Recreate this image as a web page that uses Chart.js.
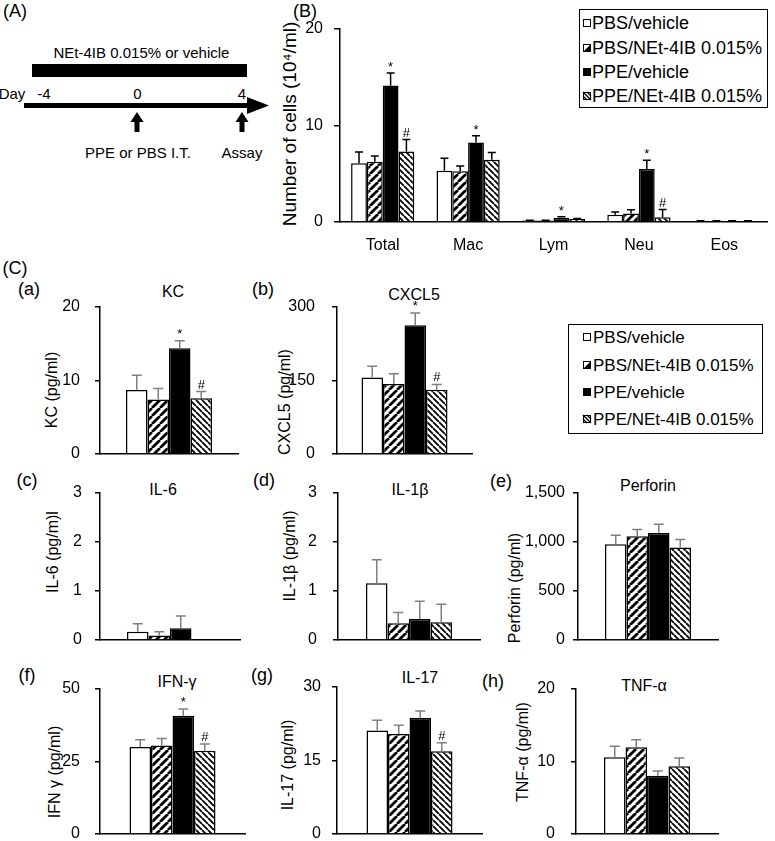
<!DOCTYPE html>
<html><head><meta charset="utf-8">
<script src="https://cdn.jsdelivr.net/npm/chart.js@4/dist/chart.umd.min.js"></script>
<style>
body{margin:0;background:#fff;width:775px;height:841px;overflow:hidden;position:relative;font-family:"Liberation Sans",Arial,sans-serif;color:#000}
.t{position:absolute;white-space:nowrap;transform:translate(-50%,-50%);line-height:1}
.yt{position:absolute;white-space:nowrap;transform:translate(-50%,-50%) rotate(-90deg);line-height:1;font-size:16px}
canvas{position:absolute}
.legend{position:absolute;border:1.5px solid #000;box-sizing:border-box;background:#fff}
.li{position:absolute;white-space:nowrap;transform:translateY(-50%);line-height:1}
.sw{position:absolute;transform:translateY(-50%)}
</style></head><body>

<!-- Panel A -->
<div class="t" style="left:15px;top:11px;font-size:18px">(A)</div>
<svg style="position:absolute;left:0;top:0" width="290" height="170">
  <rect x="32" y="64" width="215" height="13" fill="#000"/>
  <rect x="24" y="103" width="225" height="5" fill="#000"/>
  <polygon points="247,97 269,105.5 247,114" fill="#000"/>
  <polygon points="137,112 130.5,122 143.5,122" fill="#000"/>
  <rect x="134.5" y="121" width="5" height="11" fill="#000"/>
  <polygon points="242,112 235.5,122 248.5,122" fill="#000"/>
  <rect x="239.5" y="121" width="5" height="11" fill="#000"/>
  <g font-family="Liberation Sans, Arial, sans-serif" font-size="15" text-anchor="middle">
    <text x="141.5" y="58">NEt-4IB 0.015% or vehicle</text>
    <text x="12" y="99">Day</text>
    <text x="44" y="99">-4</text>
    <text x="137.5" y="99">0</text>
    <text x="242" y="99">4</text>
    <text x="138" y="158">PPE or PBS I.T.</text>
    <text x="242" y="158">Assay</text>
  </g>
</svg>

<div class="t" style="left:305px;top:11px;font-size:18px">(B)</div>
<div class="yt" style="left:289px;top:124px;font-size:19px">Number of cells (10⁴/ml)</div>

<div class="t" style="left:15px;top:268px;font-size:18px">(C)</div>

<div class="t" style="left:29px;top:289px;font-size:18px">(a)</div>
<div class="t" style="left:173px;top:292px;font-size:16px">KC</div>
<div class="yt" style="left:52px;top:390px">KC (pg/ml)</div>

<div class="t" style="left:263px;top:289px;font-size:18px">(b)</div>
<div class="t" style="left:414px;top:295px;font-size:16px">CXCL5</div>
<div class="yt" style="left:285px;top:402px">CXCL5 (pg/ml)</div>

<div class="t" style="left:27px;top:480px;font-size:18px">(c)</div>
<div class="t" style="left:163px;top:490px;font-size:16px">IL-6</div>
<div class="yt" style="left:53px;top:552px">IL-6 (pg/m)l</div>

<div class="t" style="left:264px;top:480px;font-size:18px">(d)</div>
<div class="t" style="left:410px;top:490px;font-size:16px">IL-1β</div>
<div class="yt" style="left:290px;top:556px">IL-1β (pg/ml)</div>

<div class="t" style="left:501px;top:481px;font-size:18px">(e)</div>
<div class="t" style="left:648px;top:486px;font-size:16px">Perforin</div>
<div class="yt" style="left:515px;top:588px">Perforin (pg/ml)</div>

<div class="t" style="left:27px;top:675px;font-size:18px">(f)</div>
<div class="t" style="left:177px;top:682px;font-size:16px">IFN-γ</div>
<div class="yt" style="left:55px;top:772px">IFN γ (pg/ml)</div>

<div class="t" style="left:262px;top:675px;font-size:18px">(g)</div>
<div class="t" style="left:420px;top:678px;font-size:16px">IL-17</div>
<div class="yt" style="left:288px;top:765px">IL-17 (pg/ml)</div>

<div class="t" style="left:493px;top:681px;font-size:18px">(h)</div>
<div class="t" style="left:644px;top:686px;font-size:16px">TNF-α</div>
<div class="yt" style="left:523px;top:752px">TNF-α (pg/ml)</div>

<div id="legB" class="legend" style="left:579px;top:9px;width:189px;height:99px"></div>
<div id="legC" class="legend" style="left:568px;top:324px;width:195px;height:110px"></div>

<script>
// ---------- DATA ----------
const groupLabels = ['PBS/vehicle', 'PBS/NEt-4IB 0.015%', 'PPE/vehicle', 'PPE/NEt-4IB 0.015%'];

const cellCategories = ['Total', 'Mac', 'Lym', 'Neu', 'Eos'];
const cellTicks = [0, 10, 20];
const cellPbsVehicle = [6.1, 5.3, 0.15, 0.76, 0.1];
const cellPbsNet = [6.25, 5.25, 0.15, 0.87, 0.1];
const cellPpeVehicle = [14.15, 8.25, 0.45, 5.5, 0.1];
const cellPpeNet = [7.3, 6.45, 0.3, 0.5, 0.1];
const cellPbsVehicleErr = [1.15, 1.3, 0.03, 0.28, 0.02];
const cellPbsNetErr = [0.6, 0.55, 0.03, 0.4, 0.02];
const cellPpeVehicleErr = [1.3, 0.7, 0.1, 0.9, 0.02];
const cellPpeNetErr = [1.25, 0.75, 0.05, 0.8, 0.02];
const cellPbsVehicleMarks = ['', '', '', '', ''];
const cellPbsNetMarks = ['', '', '', '', ''];
const cellPpeVehicleMarks = ['*', '*', '*', '*', ''];
const cellPpeNetMarks = ['#', '', '', '#', ''];

const kcValues = [8.7, 7.4, 14.4, 7.6];
const kcErrors = [2.0, 1.5, 1.0, 0.9];
const kcMarks = ['', '', '*', '#'];
const kcTicks = [0, 10, 20];

const cxcl5Values = [156, 143, 263, 131];
const cxcl5Errors = [23, 21, 25, 11];
const cxcl5Marks = ['', '', '*', '#'];
const cxcl5Ticks = [0, 150, 300];

const il6Values = [0.17, 0.09, 0.24, 0];
const il6Errors = [0.16, 0.08, 0.25, 0];
const il6Marks = ['', '', '', ''];
const il6Ticks = [0, 1, 2, 3];

const il1bValues = [1.16, 0.34, 0.43, 0.36];
const il1bErrors = [0.48, 0.22, 0.36, 0.37];
const il1bMarks = ['', '', '', ''];
const il1bTicks = [0, 1, 2, 3];

const perforinValues = [977, 1059, 1093, 943];
const perforinErrors = [92, 68, 88, 82];
const perforinMarks = ['', '', '', ''];
const perforinTicks = [0, 500, 1000, 1500];

const ifngValues = [30.0, 30.5, 40.8, 28.7];
const ifngErrors = [2.5, 2.4, 2.3, 2.3];
const ifngMarks = ['', '', '*', '#'];
const ifngTicks = [0, 25, 50];

const il17Values = [21.1, 20.4, 23.7, 16.9];
const il17Errors = [2.1, 1.8, 1.4, 1.7];
const il17Marks = ['', '', '', '#'];
const il17Ticks = [0, 15, 30];

const tnfaValues = [10.6, 11.95, 8.05, 9.33];
const tnfaErrors = [1.5, 1.05, 0.65, 1.15];
const tnfaMarks = ['', '', '', ''];
const tnfaTicks = [0, 10, 20];

// ---------- STYLE ----------
const FONT = '"Liberation Sans", Arial, sans-serif';
function hatch(dir, p, lw) {
  const c = document.createElement('canvas'); c.width = p; c.height = p;
  const g = c.getContext('2d');
  g.fillStyle = '#fff'; g.fillRect(0, 0, p, p);
  g.strokeStyle = '#000'; g.lineWidth = lw;
  g.beginPath();
  for (const o of [-p, 0, p]) {
    if (dir === '/') { g.moveTo(o, p); g.lineTo(o + p, 0); }
    else { g.moveTo(o, 0); g.lineTo(o + p, p); }
  }
  g.stroke();
  return g.createPattern(c, 'repeat');
}
const fills = ['#ffffff', hatch('/', 8, 2.8), '#000000', hatch('\\', 6, 1.8)];

const errorBarPlugin = {
  id: 'errorBars',
  afterDatasetsDraw(chart, args, opts) {
    const ctx = chart.ctx, ys = chart.scales.y;
    ctx.save();
    chart.data.datasets.forEach((ds, i) => {
      const meta = chart.getDatasetMeta(i);
      meta.data.forEach((bar, j) => {
        const v = ds.data[j], e = ds.errors[j] || 0;
        const y0 = ys.getPixelForValue(v), y1 = ys.getPixelForValue(v + e);
        const x = bar.x;
        if (e > 0) {
          ctx.strokeStyle = opts.color; ctx.lineWidth = 1.5;
          ctx.beginPath();
          ctx.moveTo(x, y0); ctx.lineTo(x, y1);
          ctx.moveTo(x - opts.cap / 2, y1); ctx.lineTo(x + opts.cap / 2, y1);
          ctx.stroke();
        }
        const m = ds.marks && ds.marks[j];
        if (m) {
          ctx.fillStyle = '#000';
          ctx.font = '13px ' + FONT;
          ctx.textAlign = 'center'; ctx.textBaseline = 'alphabetic';
          ctx.fillText(m, x, y1 - opts.gap);
        }
      });
    });
    ctx.restore();
  }
};

function makeChart(cfg) {
  const { l, r, t, b } = cfg.plot;
  const yW = cfg.yW;
  // vertical scale reserves half a label height plus tick padding above/below the plot
  const need = cfg.tickPad + 12;
  const padTop = need, xH = Math.max(cfg.xH, need), padRight = cfg.padRight || 6;
  const cv = document.createElement('canvas');
  const W = yW + (r - l) + padRight, H = padTop + (b - t) + xH;
  cv.width = W; cv.height = H;
  cv.style.left = (l - yW) + 'px'; cv.style.top = (t - padTop) + 'px';
  cv.style.width = W + 'px'; cv.style.height = H + 'px';
  document.body.appendChild(cv);
  const ticks = cfg.ticks;
  new Chart(cv, {
    type: 'bar',
    data: {
      labels: cfg.labels,
      datasets: cfg.series.map((s, i) => ({
        label: groupLabels[i], data: s.values, errors: s.errors, marks: s.marks,
        backgroundColor: fills[i], borderColor: '#000', borderWidth: 1.5,
        categoryPercentage: cfg.cat, barPercentage: 1
      }))
    },
    options: {
      responsive: false, animation: false, devicePixelRatio: 1,
      layout: { padding: { top: padTop, right: padRight, left: 0, bottom: 0 } },
      plugins: { legend: { display: false }, tooltip: { enabled: false },
        errorBars: { color: cfg.errColor, cap: cfg.cap, gap: cfg.gap } },
      scales: {
        x: {
          grid: { display: false, drawTicks: false },
          border: { display: true, color: '#000', width: 1.5 },
          ticks: { display: !!cfg.xLabels, color: '#000', font: { size: 16, family: FONT }, padding: cfg.xPad || 0 },
          afterFit: s => { s.height = xH; }
        },
        y: {
          min: ticks[0], max: ticks[ticks.length - 1],
          afterBuildTicks: s => { s.ticks = ticks.map(v => ({ value: v })); },
          grid: { display: true, drawOnChartArea: false, drawTicks: true, tickLength: cfg.tickLen, color: '#000', lineWidth: 1.5 },
          border: { display: true, color: '#000', width: 1.5 },
          ticks: { color: '#000', font: { size: 16, family: FONT }, padding: cfg.tickPad,
            callback: v => v.toLocaleString('en-US') },
          afterFit: s => { s.width = yW; }
        }
      }
    },
    plugins: [errorBarPlugin]
  });
}

// Panel B
makeChart({
  plot: { l: 340, r: 767, t: 29, b: 222 }, yW: 50, xH: 40, padRight: 4,
  labels: cellCategories, ticks: cellTicks, tickPad: 11, tickLen: 6, cat: 0.74,
  xLabels: true, xPad: 14, errColor: '#000', cap: 8, gap: 2,
  series: [
    { values: cellPbsVehicle, errors: cellPbsVehicleErr, marks: cellPbsVehicleMarks },
    { values: cellPbsNet, errors: cellPbsNetErr, marks: cellPbsNetMarks },
    { values: cellPpeVehicle, errors: cellPpeVehicleErr, marks: cellPpeVehicleMarks },
    { values: cellPpeNet, errors: cellPpeNetErr, marks: cellPpeNetMarks }
  ]
});

function cPanel(plot, tickPad, vals, errs, marks, ticks) {
  makeChart({
    plot, yW: 60, xH: 12, padRight: 6,
    labels: [''], ticks, tickPad, tickLen: 5, cat: 86 / (plot.r - plot.l),
    errColor: '#808080', cap: 10, gap: 3,
    series: [0, 1, 2, 3].map(i => ({ values: [vals[i]], errors: [errs[i]], marks: [marks[i]] }))
  });
}
cPanel({ l: 100, r: 238, t: 307, b: 454 }, 15, kcValues, kcErrors, kcMarks, kcTicks);
cPanel({ l: 337, r: 472, t: 307, b: 454 }, 17, cxcl5Values, cxcl5Errors, cxcl5Marks, cxcl5Ticks);
cPanel({ l: 100, r: 240, t: 493, b: 640 }, 13, il6Values, il6Errors, il6Marks, il6Ticks);
cPanel({ l: 338, r: 480, t: 493, b: 640 }, 16, il1bValues, il1bErrors, il1bMarks, il1bTicks);
cPanel({ l: 578, r: 718, t: 493, b: 640 }, 8, perforinValues, perforinErrors, perforinMarks, perforinTicks);
cPanel({ l: 100, r: 245, t: 689, b: 834 }, 15, ifngValues, ifngErrors, ifngMarks, ifngTicks);
cPanel({ l: 337, r: 482, t: 687, b: 834 }, 11, il17Values, il17Errors, il17Marks, il17Ticks);
cPanel({ l: 576, r: 718, t: 689, b: 834 }, 16, tnfaValues, tnfaErrors, tnfaMarks, tnfaTicks);

// Legends
function swatch(i) {
  const c = document.createElement('canvas'); c.width = 10; c.height = 10;
  const g = c.getContext('2d');
  g.fillStyle = i === 2 ? '#000' : '#fff'; g.fillRect(1, 1, 8, 8);
  g.fillStyle = '#000';
  if (i === 1) { g.beginPath(); g.moveTo(1, 9); g.lineTo(9, 1); g.lineTo(9, 9); g.closePath(); g.fill(); }
  if (i === 3) {
    g.strokeStyle = '#000'; g.lineWidth = 1.3; g.beginPath();
    g.moveTo(1, 1); g.lineTo(9, 9); g.moveTo(1, 5); g.lineTo(5, 9); g.moveTo(5, 1); g.lineTo(9, 5); g.stroke();
  }
  g.strokeStyle = '#000'; g.lineWidth = 1; g.strokeRect(1.5, 1.5, 7, 7);
  return c;
}
function legend(id, ys, swX, txX, size) {
  const box = document.getElementById(id);
  groupLabels.forEach((lab, i) => {
    const s = swatch(i); s.className = 'sw'; s.style.position = 'absolute';
    s.style.left = swX + 'px'; s.style.top = ys[i] + 'px';
    box.appendChild(s);
    const d = document.createElement('div'); d.className = 'li';
    d.style.left = txX + 'px'; d.style.top = ys[i] + 'px'; d.style.fontSize = size + 'px';
    d.textContent = lab; box.appendChild(d);
  });
}
legend('legB', [13, 38, 62, 86], 2, 12, 18);
legend('legC', [12, 40, 67, 94], 13, 24, 17);
</script>
</body></html>
